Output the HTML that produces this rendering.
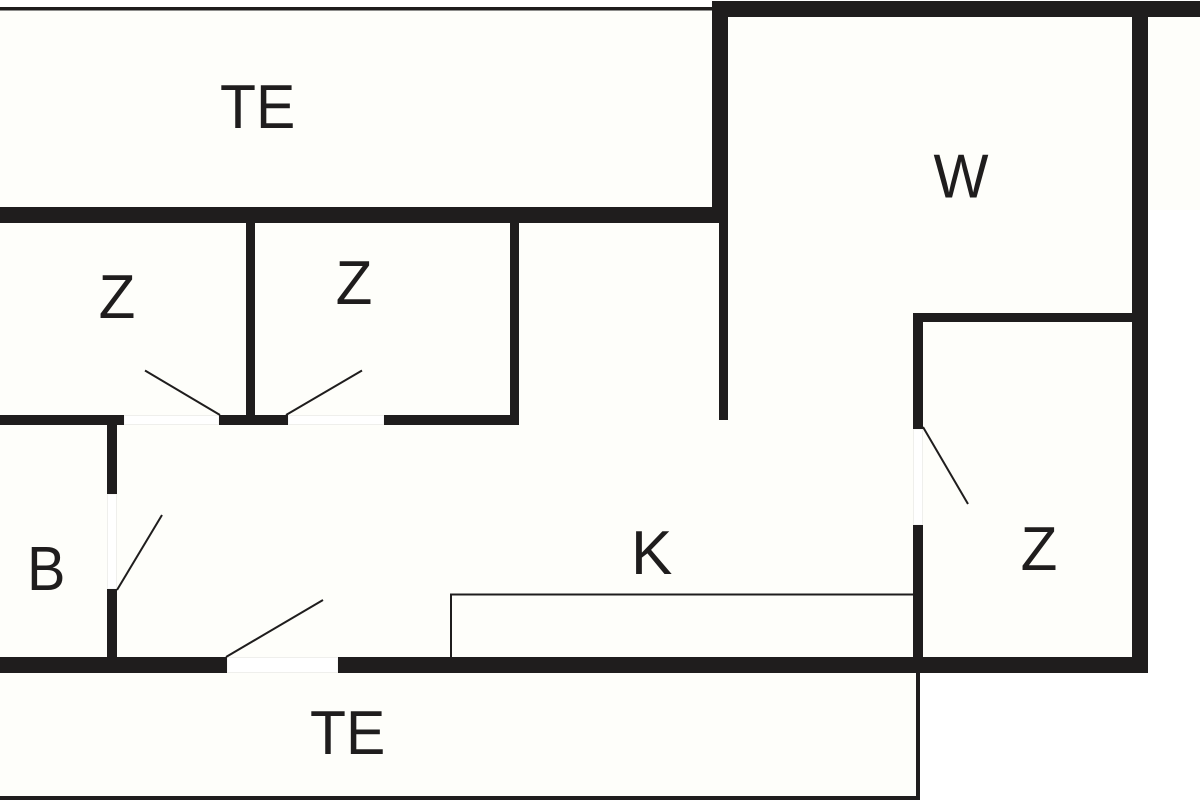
<!DOCTYPE html>
<html>
<head>
<meta charset="utf-8">
<style>
html,body{margin:0;padding:0;background:#fff;}
svg{display:block;}
text{font-family:"Liberation Sans",Arial,sans-serif;font-size:62px;fill:#1f1d1d;}
</style>
</head>
<body>
<svg xmlns="http://www.w3.org/2000/svg" width="1200" height="800" viewBox="0 0 1200 800">
<rect width="1200" height="800" fill="#fff"/>
<!-- cream interior -->
<rect x="0" y="8" width="920" height="790" fill="#fefefa"/>
<rect x="700" y="8" width="440" height="660" fill="#fefefa"/>
<rect x="1140" y="8" width="60" height="202" fill="#fefefa"/>
<!-- door gaps -->
<g fill="#ffffff" stroke="#efefec" stroke-width="1">
<rect x="124" y="415.5" width="95" height="9"/>
<rect x="288" y="415.5" width="96" height="9"/>
<rect x="107.5" y="494" width="9" height="95"/>
<rect x="227" y="657.5" width="111" height="15"/>
<rect x="913.5" y="429" width="9" height="96"/>
</g>
<!-- walls -->
<g fill="#1f1d1d">
<rect x="0" y="7" width="712" height="3.5"/>
<rect x="712" y="1" width="488" height="16"/>
<rect x="712" y="1" width="16" height="222"/>
<rect x="1132" y="1" width="16" height="672"/>
<rect x="0" y="207" width="728" height="16"/>
<rect x="719" y="223" width="9" height="197"/>
<rect x="246" y="223" width="9" height="192"/>
<rect x="510" y="223" width="9" height="202"/>
<rect x="0" y="415" width="124" height="10"/>
<rect x="219" y="415" width="69" height="10"/>
<rect x="384" y="415" width="135" height="10"/>
<rect x="107" y="425" width="10" height="69"/>
<rect x="107" y="589" width="10" height="70"/>
<rect x="0" y="657" width="227" height="16"/>
<rect x="338" y="657" width="810" height="16"/>
<rect x="913" y="313" width="10" height="116"/>
<rect x="913" y="313" width="222" height="9"/>
<rect x="913" y="525" width="10" height="134"/>
<rect x="916" y="673" width="4" height="127"/>
<rect x="0" y="796" width="920" height="4"/>
</g>
<!-- counter -->
<path d="M451 658V594.500H914" fill="none" stroke="#1f1d1d" stroke-width="2"/>
<!-- door leaves -->
<g stroke="#1f1d1d" stroke-width="2" fill="none">
<line x1="220" y1="415" x2="145" y2="370.500"/>
<line x1="286" y1="415" x2="362" y2="370.500"/>
<line x1="117" y1="590" x2="162" y2="515"/>
<line x1="226" y1="657" x2="323" y2="600"/>
<line x1="923" y1="427" x2="968" y2="504"/>
</g>
<!-- labels -->
<text transform="translate(220 128) scale(.95 1)">TE</text>
<text transform="translate(310 754) scale(.95 1)">TE</text>
<text transform="translate(961 197.500) scale(.94 1)" text-anchor="middle">W</text>
<text transform="translate(117 318) scale(.97 1)" text-anchor="middle">Z</text>
<text transform="translate(354 304) scale(.97 1)" text-anchor="middle">Z</text>
<text transform="translate(1039 570) scale(.97 1)" text-anchor="middle">Z</text>
<text transform="translate(27 590) scale(.93 1)">B</text>
<text x="631" y="574">K</text>
</svg>
</body>
</html>
